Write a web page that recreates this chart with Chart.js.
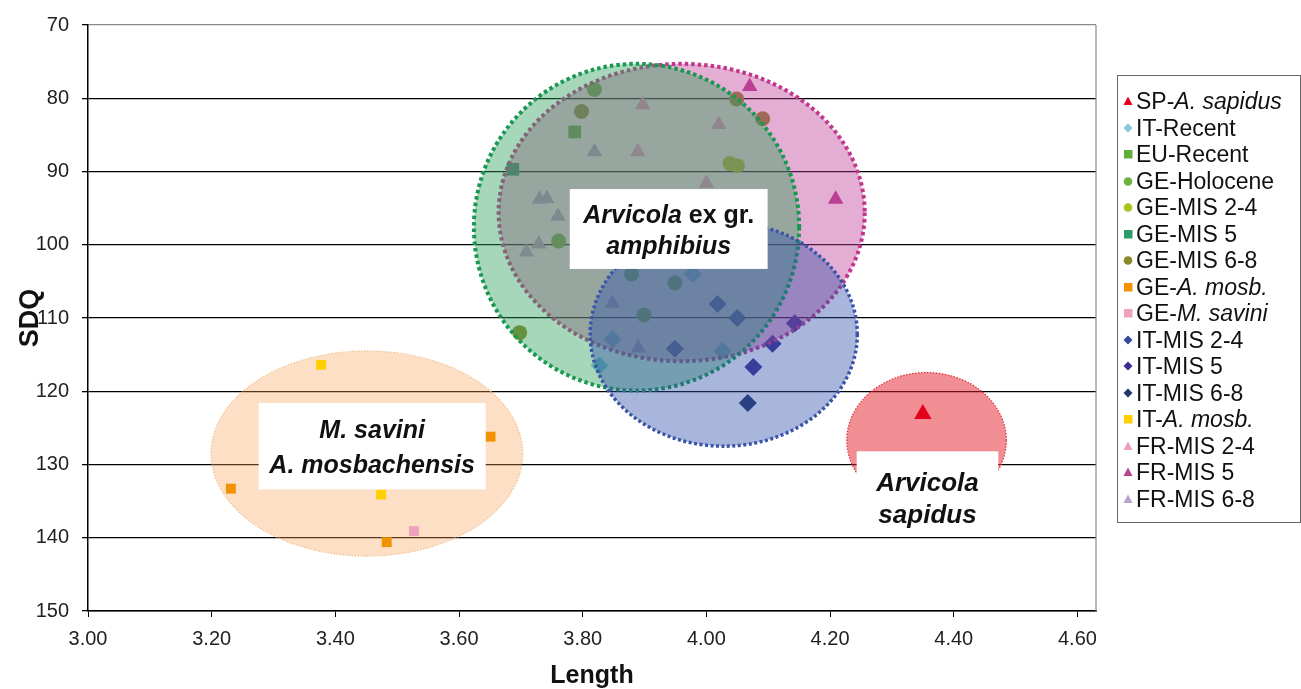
<!DOCTYPE html>
<html>
<head>
<meta charset="utf-8">
<script src="https://cdn.jsdelivr.net/npm/chart.js@4.4.1/dist/chart.umd.min.js"></script>
<style>
html, body { margin: 0; padding: 0; background: #fff; }
#wrap { position: relative; width: 1301px; height: 689px; }
#legend {
	position: absolute; left: 1117px; top: 75px; width: 184px; height: 448px;
	border: 1px solid #666; box-sizing: border-box; padding-top: 12px;
	font-family: "Liberation Sans", Arial, sans-serif; font-size: 23px; color: #111;
}
.row { height: 26.5px; line-height: 26.5px; white-space: nowrap; }
.row svg { vertical-align: middle; margin: -3px 1px 0 3px; }
</style>
</head>
<body>
<div id="wrap">
	<canvas id="scatter" width="1301" height="689"></canvas>
	<div id="legend"></div>
</div>
<script>
// series, in legend order
var labelPrefix = ["SP-", "IT-Recent", "EU-Recent", "GE-Holocene", "GE-MIS 2-4", "GE-MIS 5", "GE-MIS 6-8", "GE-", "GE-", "IT-MIS 2-4", "IT-MIS 5", "IT-MIS 6-8", "IT-", "FR-MIS 2-4", "FR-MIS 5", "FR-MIS 6-8"];
var labelItalic = ["A. sapidus", "", "", "", "", "", "", "A. mosb.", "M. savini", "", "", "", "A. mosb.", "", "", ""];

// [Length, SDQ]
var spSapidus = [[4.35, 123.1]];
var itRecent = [[3.827, 116.5], [3.978, 104.0], [3.848, 112.9], [4.026, 114.5]];
var euRecent = [[3.787, 84.6]];
var geHolocene = [[3.819, 78.8], [3.761, 99.5], [3.879, 104.0], [3.949, 105.2], [3.899, 109.6]];
var geMis24 = [[4.038, 88.9], [4.050, 89.2]];
var geMis5 = [[3.687, 89.7]];
var geMis68 = [[3.798, 81.8], [4.049, 80.1], [4.091, 82.8], [3.698, 112.0]];
var geMosb = [[3.651, 126.2], [3.231, 133.3], [3.483, 140.6]];
var geSavini = [[3.527, 139.1]];
var itMis24 = [[4.018, 108.1], [4.050, 110.0], [3.949, 114.2]];
var itMis5 = [[4.076, 116.7], [4.107, 113.5], [4.143, 110.7]];
var itMis68 = [[4.067, 121.6]];
var itMosb = [[3.377, 116.4], [3.474, 134.1]];
var frMis24 = [[3.897, 80.9], [3.889, 87.3], [4.020, 83.6], [4.000, 91.6]];
var frMis5 = [[4.070, 78.4], [4.209, 93.8]];
var frMis68 = [[3.819, 87.3], [3.730, 93.8], [3.742, 93.7], [3.760, 96.1], [3.729, 99.9], [3.709, 101.0], [3.848, 108.0], [3.890, 114.1]];

var seriesPoints = [spSapidus, itRecent, euRecent, geHolocene, geMis24, geMis5, geMis68, geMosb, geSavini, itMis24, itMis5, itMis68, itMosb, frMis24, frMis5, frMis68];

// group ellipses: FR, GE, IT, sapidus, mosbachensis (centre and half-axes in data units)
var ellipseX = [3.960, 3.887, 4.028, 4.356, 3.451];
var ellipseY = [95.6, 97.6, 112.2, 126.7, 128.5];
var ellipseRx = [0.296, 0.263, 0.216, 0.129, 0.252];
var ellipseRy = [20.3, 22.3, 15.3, 9.25, 14.0];

var xTicks = [3.0, 3.2, 3.4, 3.6, 3.8, 4.0, 4.2, 4.4, 4.6];
var yTicks = [70, 80, 90, 100, 110, 120, 130, 140, 150];

// styles
var FONT = "'Liberation Sans', Arial, sans-serif";
var shapes = ["triangle", "rectRot", "rect", "circle", "circle", "rect", "circle", "rect", "rect", "rectRot", "rectRot", "rectRot", "rect", "triangle", "triangle", "triangle"];
var colors = ["#e2001a", "#7cc8df", "#5dae3a", "#6bb33f", "#a9c61e", "#2e9a68", "#8a8a2c", "#f39200", "#eea0bf", "#34479a", "#3a2f8f", "#23356b", "#ffd000", "#ee9ec4", "#b8438f", "#b7a5cf"];
var radii = [10, 9, 9, 7.5, 7.5, 9, 7.5, 7, 7, 9, 9, 9, 7, 9, 9, 9];
var ellipseStyle = [
	{ fill: "rgba(190,60,150,0.42)", stroke: "#c2378e", width: 4, dash: [3.5, 3] },
	{ fill: "rgba(46,160,90,0.42)", stroke: "#189850", width: 4, dash: [3.5, 3] },
	{ fill: "rgba(50,80,170,0.42)", stroke: "#3a55a8", width: 3.5, dash: [3, 2.5] },
	{ fill: "rgba(225,30,40,0.5)", stroke: "#e0303c", width: 1.2, dash: [1.5, 1.5] },
	{ fill: "rgba(245,160,85,0.34)", stroke: "#f2c08e", width: 1.2, dash: [1.5, 1.5] }
];
var textBoxes = [
	{ x1: 3.779, x2: 4.099, y1: 92.4, y2: 103.3, size: 25, lines: [[["Arvicola", true], [" ex gr.", false]], [["amphibius", true]]], at: [0.34, 0.73] },
	{ x1: 3.276, x2: 3.643, y1: 121.6, y2: 133.4, size: 25, lines: [[["M. savini", true]], [["A. mosbachensis", true]]], at: [0.33, 0.73] },
	{ x1: 4.243, x2: 4.472, y1: 128.2, y2: 139.2, size: 26, lines: [[["Arvicola", true]], [["sapidus", true]]], at: [0.4, 0.8] }
];

function drawEllipse(chart, i) {
	var xs = chart.scales.x, ys = chart.scales.y, c = chart.ctx;
	var cx = xs.getPixelForValue(ellipseX[i]);
	var cy = ys.getPixelForValue(ellipseY[i]);
	var rx = Math.abs(xs.getPixelForValue(ellipseX[i] + ellipseRx[i]) - cx);
	var ry = Math.abs(ys.getPixelForValue(ellipseY[i] + ellipseRy[i]) - cy);
	var st = ellipseStyle[i];
	c.save();
	c.beginPath();
	c.ellipse(cx, cy, rx, ry, 0, 0, Math.PI * 2);
	c.fillStyle = st.fill;
	c.fill();
	c.setLineDash(st.dash);
	c.lineWidth = st.width;
	c.strokeStyle = st.stroke;
	c.stroke();
	c.restore();
}

function drawBox(chart, b) {
	var xs = chart.scales.x, ys = chart.scales.y, c = chart.ctx;
	var l = xs.getPixelForValue(b.x1), r = xs.getPixelForValue(b.x2);
	var t = ys.getPixelForValue(b.y1), btm = ys.getPixelForValue(b.y2);
	c.save();
	c.fillStyle = "#fff";
	c.fillRect(l, t, r - l, btm - t);
	c.fillStyle = "#111";
	c.textBaseline = "middle";
	b.lines.forEach(function(line, k) {
		var widths = line.map(function(p) {
			c.font = (p[1] ? "italic " : "") + "bold " + b.size + "px " + FONT;
			return c.measureText(p[0]).width;
		});
		var total = widths.reduce(function(a, w) { return a + w; }, 0);
		var x = (l + r) / 2 - total / 2;
		var y = t + (btm - t) * b.at[k];
		line.forEach(function(p, j) {
			c.font = (p[1] ? "italic " : "") + "bold " + b.size + "px " + FONT;
			c.fillText(p[0], x, y);
			x += widths[j];
		});
	});
	c.restore();
}

var groupPlugin = {
	id: "groups",
	beforeDatasetsDraw: function(chart) {
		drawEllipse(chart, 3);
		drawEllipse(chart, 4);
	},
	afterDatasetsDraw: function(chart) {
		drawEllipse(chart, 0);
		drawEllipse(chart, 1);
		drawEllipse(chart, 2);
		var a = chart.chartArea, c = chart.ctx;
		c.save();
		c.strokeStyle = "#8a8a8a";
		c.lineWidth = 1.2;
		c.beginPath();
		c.moveTo(a.right, a.top);
		c.lineTo(a.right, a.bottom);
		c.stroke();
		c.restore();
		textBoxes.forEach(function(b) { drawBox(chart, b); });
	}
};

var datasets = seriesPoints.map(function(pts, i) {
	return {
		label: labelPrefix[i] + labelItalic[i],
		data: pts.map(function(p) { return { x: p[0], y: p[1] }; }),
		pointStyle: shapes[i],
		pointRadius: radii[i],
		backgroundColor: colors[i],
		borderColor: colors[i],
		pointBorderWidth: 0
	};
});

var scatter = {
	type: "scatter",
	data: { datasets: datasets },
	options: {
		responsive: false,
		animation: false,
		layout: { padding: { left: 0, top: 23, right: 205, bottom: 0 } },
		plugins: { legend: { display: false }, tooltip: { enabled: false } },
		scales: {
			x: {
				type: "linear", min: 3, max: 4.63,
				afterBuildTicks: function(s) { s.ticks = xTicks.map(function(v) { return { value: v }; }); },
				ticks: { callback: function(v) { return v.toFixed(2); }, font: { size: 20, family: FONT }, color: "#222", padding: 10, maxRotation: 0 },
				grid: { drawOnChartArea: false, tickLength: 6, tickColor: "#000", color: "#000" },
				border: { color: "#000", width: 1.5 },
				title: { display: true, text: "Length", color: "#111", font: { size: 25, weight: "bold", family: FONT, lineHeight: 1 }, padding: { top: 0, bottom: 0 } },
				afterFit: function(s) { s.height = 78; }
			},
			y: {
				type: "linear", reverse: true, min: 70, max: 150,
				afterBuildTicks: function(s) { s.ticks = yTicks.map(function(v) { return { value: v }; }); },
				ticks: { font: { size: 20, family: FONT }, color: "#222", padding: 13 },
				grid: {
					color: function(ctx) { return ctx.tick && ctx.tick.value === 70 ? "#8a8a8a" : "#000"; },
					lineWidth: 1.3, tickLength: 6, tickColor: "#000"
				},
				border: { color: "#000", width: 1.5 },
				title: { display: true, text: "SDQ", color: "#111", font: { size: 27, weight: "bold", family: FONT, lineHeight: 1.2 }, padding: { top: 14, bottom: 0 } },
				afterFit: function(s) { s.width = 88; }
			}
		}
	},
	plugins: [groupPlugin]
};

function markerSvg(i) {
	var c = colors[i], s = shapes[i], inner;
	if (s === "triangle") inner = '<polygon points="7,2.5 11.5,11 2.5,11" fill="' + c + '"/>';
	else if (s === "rectRot") inner = '<polygon points="7,2.5 11.5,7 7,11.5 2.5,7" fill="' + c + '"/>';
	else if (s === "rect") inner = '<rect x="3" y="3" width="8.5" height="8.5" fill="' + c + '"/>';
	else inner = '<circle cx="7" cy="7.5" r="4.3" fill="' + c + '"/>';
	return '<svg width="14" height="14">' + inner + '</svg>';
}

window.onload = function() {
	var legend = document.getElementById("legend");
	var html = "";
	for (var i = 0; i < labelPrefix.length; i++) {
		html += '<div class="row">' + markerSvg(i) + '<span>' + labelPrefix[i] + (labelItalic[i] ? '<i>' + labelItalic[i] + '</i>' : '') + '</span></div>';
	}
	legend.innerHTML = html;
	var ctx = document.getElementById("scatter").getContext("2d");
	window.myScatter = new Chart(ctx, scatter);
};
</script>
</body>
</html>
